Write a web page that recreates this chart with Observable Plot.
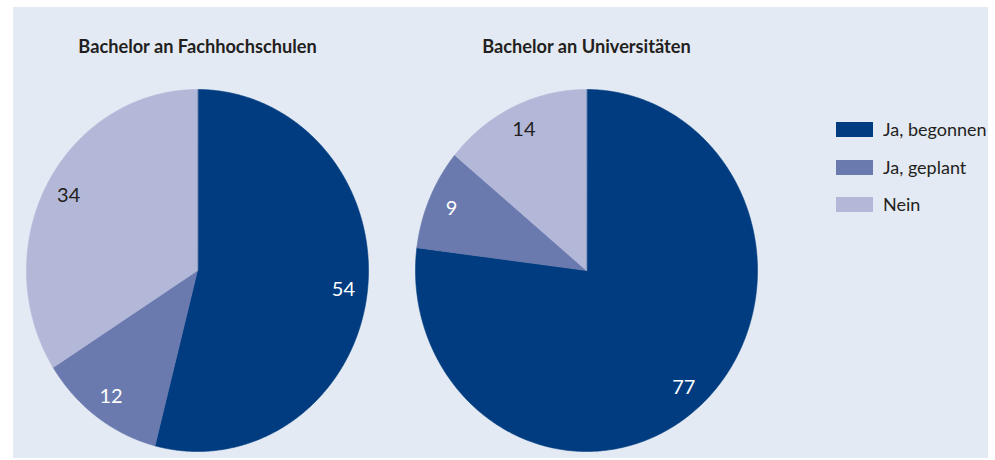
<!DOCTYPE html>
<html>
<head>
<meta charset="utf-8">
<script src="https://cdn.jsdelivr.net/npm/d3@7"></script>
<script src="https://cdn.jsdelivr.net/npm/@observablehq/plot@0.6"></script>
<style>
  html, body { margin: 0; padding: 0; background: #ffffff; }
  body { width: 995px; height: 460px; position: relative; overflow: hidden; font-family: Lato, sans-serif; }
  #bg { position: absolute; left: 13px; top: 7px; width: 975px; height: 451px; background: #e4eaf4; }
  #chart { position: absolute; left: 0; top: 0; }
  #legend { position: absolute; left: 836px; top: 122px; }
  .row { display: flex; align-items: center; height: 15px; margin-bottom: 22.5px; }
  .sw { width: 37px; height: 15px; margin-right: 10px; flex: none; }
  .lab { font-size: 18px; color: #231f20; white-space: nowrap; line-height: 15px; }
</style>
</head>
<body>
<div id="bg"></div>
<div id="chart"></div>
<div id="legend"></div>
<script>
const groups = ["Bachelor an Fachhochschulen", "Bachelor an Universitäten"];
const categories = ["Ja, begonnen", "Ja, geplant", "Nein"];
const fhValues = [54, 12, 34];
const uniValues = [77, 9, 14];
const colors = ["#003c7f", "#6a7aae", "#b4b8d8"];
const labelColors = ["#ffffff", "#ffffff", "#231f20"];

const seriesByGroup = [fhValues, uniValues];

// Build slice polygons (unit-circle coordinates) and label anchors
const slicePts = [];
const labels = [];
groups.forEach((g, gi) => {
  const vals = seriesByGroup[gi];
  const total = d3.sum(vals);
  let cum = 0;
  vals.forEach((v, ci) => {
    const a0 = cum / total * 2 * Math.PI;
    const a1 = (cum + v) / total * 2 * Math.PI;
    cum += v;
    const id = gi + "-" + ci;
    slicePts.push({group: g, cat: categories[ci], id, x: 0, y: 0});
    const n = Math.max(2, Math.ceil((a1 - a0) / (Math.PI / 360)));
    for (let k = 0; k <= n; k++) {
      const a = a0 + (a1 - a0) * k / n;
      slicePts.push({group: g, cat: categories[ci], id, x: Math.sin(a), y: Math.cos(a)});
    }
    const am = (a0 + a1) / 2;
    labels.push({group: g, value: v, color: labelColors[ci], x: 0.86 * Math.sin(am), y: 0.86 * Math.cos(am)});
  });
});

const chart = Plot.plot({
  width: 995,
  height: 460,
  marginLeft: 26,
  marginRight: 238,
  marginTop: 89,
  marginBottom: 9,
  style: {background: "transparent", fontFamily: "Lato, sans-serif"},
  fx: {domain: groups, paddingInner: 47 / 389, paddingOuter: 0, axis: null, round: false},
  x: {domain: [-1, 1], axis: null},
  y: {domain: [-1, 1], axis: null},
  color: {domain: categories, range: colors},
  marks: [
    Plot.line(slicePts, {fx: "group", x: "x", y: "y", z: "id", fill: "cat", stroke: "cat", strokeWidth: 0.6, curve: "linear-closed"}),
    Plot.text(labels.filter(d => d.color === "#ffffff"), {fx: "group", x: "x", y: "y", text: d => String(d.value), fill: "#ffffff", fontSize: 20}),
    Plot.text(labels.filter(d => d.color !== "#ffffff"), {fx: "group", x: "x", y: "y", text: d => String(d.value), fill: "#231f20", fontSize: 20}),
    Plot.text(groups, {fx: d => d, text: d => d, frameAnchor: "top", dy: -49.5, fontWeight: "bold", fontSize: 18.2, fill: "#231f20"})
  ]
});
document.getElementById("chart").appendChild(chart);

const legend = document.getElementById("legend");
categories.forEach((c, i) => {
  const row = document.createElement("div");
  row.className = "row";
  const sw = document.createElement("div");
  sw.className = "sw";
  sw.style.background = colors[i];
  const lab = document.createElement("div");
  lab.className = "lab";
  lab.textContent = c;
  row.appendChild(sw);
  row.appendChild(lab);
  legend.appendChild(row);
});
</script>
</body>
</html>
